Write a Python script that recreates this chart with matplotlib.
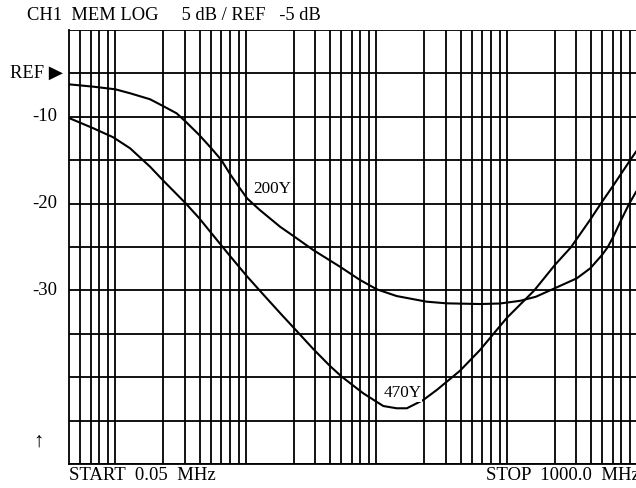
import matplotlib
matplotlib.use('Agg')
import matplotlib.pyplot as plt

# trace data (MHz, dB)
freq_200y = [0.05, 0.0768, 0.113, 0.147, 0.209, 0.269, 0.334, 0.392, 0.498, 0.616,
             0.735, 0.867, 1.02, 1.16, 1.45, 2.07, 2.78, 3.72, 5.96, 8.49,
             11.4, 16.2, 27.5, 39.2, 70.5, 100.4, 143, 189, 240, 389,
             494, 607, 671, 741, 864, 978, 1106]
db_200y = [-6.26, -6.53, -6.83, -7.29, -7.98, -8.84, -9.60, -10.56, -12.10, -13.63,
           -14.98, -16.71, -18.24, -19.41, -20.74, -22.66, -24.00, -25.35, -27.27, -28.80,
           -29.87, -30.65, -31.30, -31.49, -31.57, -31.51, -31.20, -30.73, -30.03, -28.61,
           -27.45, -25.92, -25.03, -23.81, -21.69, -20.05, -18.66]

freq_470y = [0.05, 0.0768, 0.109, 0.147, 0.209, 0.269, 0.392, 0.498, 0.638, 0.857,
             1.15, 1.54, 2.07, 2.78, 3.72, 5.0, 6.15, 9.0, 12.8, 16.2,
             19.4, 25.9, 32.9, 49.6, 70.5, 113, 183, 266, 351, 494,
             597, 741, 1000, 1106]
db_470y = [-10.14, -11.32, -12.36, -13.63, -15.75, -17.48, -19.97, -21.69, -23.68, -26.04,
           -28.34, -30.47, -32.60, -34.68, -36.75, -38.71, -39.94, -41.86, -43.32, -43.58,
           -43.58, -42.63, -41.47, -39.25, -36.87, -33.18, -30.03, -27.02, -25.03, -21.83,
           -19.96, -17.91, -14.98, -14.02]

# screen graticule
decades = [0.01, 0.1, 1, 10, 100, 1000]
decade_marks = [1.0, 1.13, 2.64, 3.87, 5.0, 6.08, 7.31, 8.56]
db_lines = [0, -5, -10, -15, -20, -25, -30, -35, -40, -45, -50]
db_labels = {-10: '-10', -20: '-20', -30: '-30'}

f_start, f_right = 0.05, 1106

plt.rcParams['font.family'] = ['Liberation Serif', 'DejaVu Sans']

fig = plt.figure(figsize=(6.36, 4.88), dpi=100)
ax = fig.add_axes([69 / 636, 24 / 488, 567 / 636, 434 / 488])

for d in decades:
    for m in decade_marks:
        f = d * m
        if f_start < f < f_right:
            ax.axvline(f, color='black', lw=1.3, zorder=1)
for v in db_lines:
    ax.axhline(v, color='black', lw=1.3, zorder=1)

ax.plot(freq_200y, db_200y, color='black', lw=1.5, zorder=2)
ax.plot(freq_470y, db_470y, color='black', lw=1.5, zorder=2)

ax.text(1.285, -18.3, '200Y', fontsize=12.3, va='center', ha='left',
        bbox=dict(facecolor='white', edgecolor='none', pad=0.5), zorder=3)
ax.text(12.8, -41.8, '470Y', fontsize=12.3, va='center', ha='left',
        bbox=dict(facecolor='white', edgecolor='none', pad=0.5), zorder=3)

ax.set_xscale('log')
ax.set_xlim(f_start, f_right)
ax.set_ylim(-50, 0)
ax.set_xticks([])
ax.set_yticks([])
ax.minorticks_off()
for side in ['top', 'right']:
    ax.spines[side].set_visible(False)
for side in ['left', 'bottom']:
    ax.spines[side].set_linewidth(1.3)

ytr = ax.get_yaxis_transform()
ax.text(-0.0106, -5, 'REF \u25b6', fontsize=13.3, ha='right', va='center', transform=ytr)
for v, s in db_labels.items():
    ax.text(-0.021, v, s, fontsize=13.5, ha='right', va='center', transform=ytr)

fig.text(27 / 636, 1 - 16 / 488, 'CH1  MEM LOG     5 dB / REF   -5 dB', fontsize=13.3, va='center')
fig.text(39 / 636, 1 - 442 / 488, '\u2191', fontsize=15, ha='center', va='center')
fig.text(69 / 636, 1 - 476 / 488, 'START  0.05  MHz', fontsize=13.5, va='center')
fig.text(486 / 636, 1 - 476 / 488, 'STOP  1000.0  MHz', fontsize=13.5, va='center')

fig.savefig('out.png', dpi=100)
